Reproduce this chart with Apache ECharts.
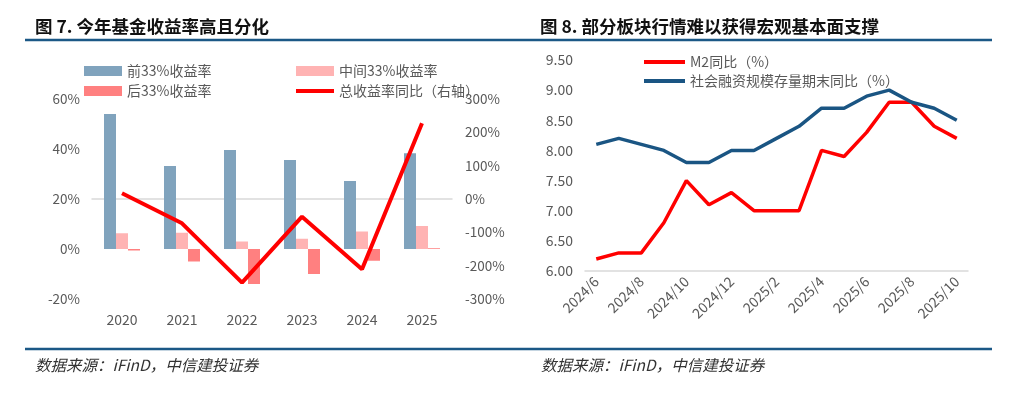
<!DOCTYPE html>
<html>
<head>
<meta charset="utf-8">
<script src="https://cdn.jsdelivr.net/npm/echarts@6/dist/echarts.min.js"></script>
<style>
  html, body { margin: 0; padding: 0; background: #fff; }
  #chart { width: 1021px; height: 397px; }
</style>
</head>
<body>
<div id="chart"></div>
<script>
// left: fund returns
const years = ["2020", "2021", "2022", "2023", "2024", "2025"];
const topThird = [54, 33.2, 39.6, 35.6, 27.2, 38.3];
const midThird = [6.3, 6.5, 3, 4.1, 7, 9.2];
const lowThird = [-0.6, -5, -14, -10, -4.7, 0.3];
const totalYoY = [17, -73, -251, -53, -211, 227];

// right: M2 and social financing
const months = ["2024/6", "2024/7", "2024/8", "2024/9", "2024/10", "2024/11", "2024/12",
  "2025/1", "2025/2", "2025/3", "2025/4", "2025/5", "2025/6", "2025/7", "2025/8", "2025/9", "2025/10"];
const m2YoY = [6.2, 6.3, 6.3, 6.8, 7.5, 7.1, 7.3, 7.0, 7.0, 7.0, 8.0, 7.9, 8.3, 8.8, 8.8, 8.4, 8.2];
const tsfYoY = [8.1, 8.2, 8.1, 8.0, 7.8, 7.8, 8.0, 8.0, 8.2, 8.4, 8.7, 8.7, 8.9, 9.0, 8.8, 8.7, 8.5];

const gray = "#595959";
const navy = "#1B5886";
const cjk = "'Noto Sans CJK SC', 'Open Sans', sans-serif";
// flat bar used as legend icon for line series
const lineIcon = "path://M0,0 L40,0 L40,4 L0,4 Z";

const chart = echarts.init(document.getElementById("chart"));

chart.setOption({
  animation: false,
  textStyle: { fontFamily: cjk },
  graphic: [
    { type: "text", left: 35, top: 18, style: { text: "图 7. 今年基金收益率高且分化", font: "bold 17.5px " + cjk, fill: "#111" } },
    { type: "text", left: 540, top: 18, style: { text: "图 8. 部分板块行情难以获得宏观基本面支撑", font: "bold 17.5px " + cjk, fill: "#111" } },
    { type: "line", shape: { x1: 25, y1: 40, x2: 992, y2: 40 }, style: { stroke: navy, lineWidth: 2.5 } },
    { type: "line", shape: { x1: 25, y1: 349, x2: 992, y2: 349 }, style: { stroke: navy, lineWidth: 2.5 } },
    { type: "text", left: 35, top: 357, style: { text: "数据来源：iFinD，中信建投证券", font: "italic 15.5px " + cjk, fill: "#333" } },
    { type: "text", left: 541, top: 357, style: { text: "数据来源：iFinD，中信建投证券", font: "italic 15.5px " + cjk, fill: "#333" } }
  ],
  legend: [
    {
      left: 79, top: 59, orient: "vertical", itemWidth: 38, itemHeight: 10, itemGap: 6, itemTextGap: 7,
      symbolKeepAspect: true,
      textStyle: { color: gray, fontSize: 14, lineHeight: 14 },
      data: [{ name: "前33%收益率", icon: "rect" }, { name: "后33%收益率", icon: "rect" }]
    },
    {
      left: 291, top: 59, orient: "vertical", itemWidth: 38, itemHeight: 10, itemGap: 6, itemTextGap: 7,
      symbolKeepAspect: true,
      textStyle: { color: gray, fontSize: 14, lineHeight: 14 },
      data: [{ name: "中间33%收益率", icon: "rect" }, { name: "总收益率同比（右轴）", icon: lineIcon }]
    },
    {
      left: 639, top: 50, orient: "vertical", itemWidth: 41, itemHeight: 10, itemGap: 5, itemTextGap: 5,
      symbolKeepAspect: true,
      textStyle: { color: gray, fontSize: 14, lineHeight: 14 },
      data: [{ name: "M2同比（%）", icon: lineIcon }, { name: "社会融资规模存量期末同比（%）", icon: lineIcon }]
    }
  ],
  grid: [
    { left: 92, right: 1021 - 452, top: 99, height: 200 },
    { left: 585, right: 1021 - 968, top: 60, height: 211 }
  ],
  xAxis: [
    {
      type: "category", gridIndex: 0, data: years,
      axisLine: { show: false }, axisTick: { show: false },
      axisLabel: { color: gray, fontSize: 14, margin: 14 }
    },
    {
      type: "category", gridIndex: 0, data: years, position: "bottom",
      axisLine: { onZero: true, lineStyle: { color: "#d9d9d9", width: 1.5 } },
      axisTick: { show: false }, axisLabel: { show: false }
    },
    {
      type: "category", gridIndex: 1, data: months,
      axisLine: { lineStyle: { color: "#d9d9d9", width: 1.5 } }, axisTick: { show: false },
      axisLabel: { color: gray, fontSize: 14, rotate: 45, interval: 1, margin: 8 }
    }
  ],
  yAxis: [
    {
      type: "value", gridIndex: 0, min: -20, max: 60, interval: 20,
      splitLine: { show: false }, axisLine: { show: false }, axisTick: { show: false },
      axisLabel: { color: gray, fontSize: 13.5, margin: 12, formatter: "{value}%" }
    },
    {
      type: "value", gridIndex: 0, min: -300, max: 300, interval: 100, position: "right",
      splitLine: { show: false }, axisLine: { show: false }, axisTick: { show: false },
      axisLabel: { color: gray, fontSize: 13.5, margin: 13, formatter: "{value}%" }
    },
    {
      type: "value", gridIndex: 1, min: 6, max: 9.5, interval: 0.5,
      splitLine: { show: false }, axisLine: { show: false }, axisTick: { show: false },
      axisLabel: { color: gray, fontSize: 14, margin: 12, formatter: (v) => v.toFixed(2) }
    }
  ],
  series: [
    {
      name: "前33%收益率", type: "bar", xAxisIndex: 0, yAxisIndex: 0, data: topThird,
      barWidth: 12, barGap: "0%", itemStyle: { color: "#80A3BD" }
    },
    {
      name: "中间33%收益率", type: "bar", xAxisIndex: 0, yAxisIndex: 0, data: midThird,
      barWidth: 12, barGap: "0%", itemStyle: { color: "#FFB3B3" }
    },
    {
      name: "后33%收益率", type: "bar", xAxisIndex: 0, yAxisIndex: 0, data: lowThird,
      barWidth: 12, barGap: "0%", itemStyle: { color: "#FF8080" }
    },
    {
      name: "总收益率同比（右轴）", type: "line", xAxisIndex: 0, yAxisIndex: 1, data: totalYoY,
      symbol: "none", lineStyle: { color: "#FF0000", width: 4 }, itemStyle: { color: "#FF0000" }, z: 5
    },
    {
      name: "M2同比（%）", type: "line", xAxisIndex: 2, yAxisIndex: 2, data: m2YoY,
      symbol: "none", lineStyle: { color: "#FF0000", width: 3.5 }, itemStyle: { color: "#FF0000" }
    },
    {
      name: "社会融资规模存量期末同比（%）", type: "line", xAxisIndex: 2, yAxisIndex: 2, data: tsfYoY,
      symbol: "none", lineStyle: { color: "#1A5583", width: 3.5 }, itemStyle: { color: "#1A5583" }
    }
  ]
});
</script>
</body>
</html>
